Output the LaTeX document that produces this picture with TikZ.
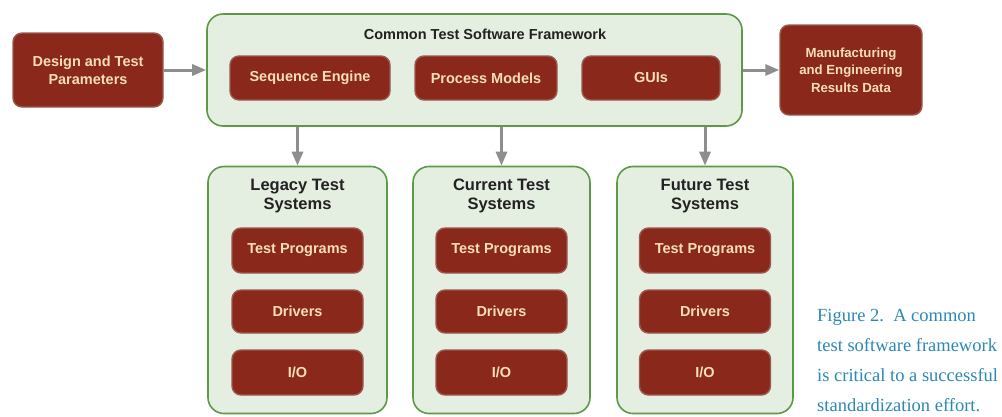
\documentclass[tikz,border=0pt]{standalone}
\usepackage{fontspec}
\setmainfont{Liberation Sans}
\newfontfamily\capfont{Liberation Serif}
\usetikzlibrary{arrows.meta}
\definecolor{boxred}{HTML}{8A281C}
\definecolor{boxedge}{HTML}{9A5A50}
\definecolor{boxtext}{HTML}{F6DEBB}
\definecolor{grnedge}{HTML}{5C9A48}
\definecolor{grnfill}{HTML}{E4EEE1}
\definecolor{arrgray}{HTML}{8E8E8E}
\definecolor{captblue}{HTML}{2B88B5}
\definecolor{ttltext}{HTML}{222222}
\tikzset{
  redbox/.style={draw=boxedge, line width=1.4pt, fill=boxred, rounded corners=9pt, text=boxtext,
    font=\bfseries\fontsize{14.5}{18}\selectfont, align=center, inner sep=0pt},
  container/.style={draw=grnedge, line width=1.6pt, fill=grnfill, rounded corners=16pt, inner sep=0pt},
  ttl/.style={font=\bfseries\fontsize{16.5}{19}\selectfont, text=ttltext, align=center, inner sep=0pt},
  arr/.style={draw=arrgray, line width=3pt, -{Triangle[length=14pt,width=11pt]}, arrgray},
}
\begin{document}
\begin{tikzpicture}[x=1pt,y=-1pt]
\useasboundingbox (0,0) rectangle (1002,416);
% left input
\node[redbox, minimum width=150pt, minimum height=74pt] (design) at (88,70) {Design and Test\\Parameters};
% framework
\node[container, minimum width=535pt, minimum height=112pt] (fw) at (474.5,70) {};
\node[ttl, font=\bfseries\fontsize{14.5}{18}\selectfont] (fwtitle) at (485,34) {Common Test Software Framework};
\node[redbox, minimum width=160pt, minimum height=44pt] (seq) at (310,78) {Sequence Engine};
\node[redbox, minimum width=142pt, minimum height=44pt] (proc) at (486,78) {Process Models};
\node[redbox, minimum width=138pt, minimum height=44pt] (gui) at (651,78) {GUIs};
% right output
\node[redbox, minimum width=142pt, minimum height=90pt, font=\bfseries\fontsize{13.2}{17.5}\selectfont] (mfg) at (851,70) {Manufacturing\\and Engineering\\Results Data};
% systems
\node[container, minimum width=179pt, minimum height=247pt] (leg) at (297.5,290) {};
\node[container, minimum width=177pt, minimum height=247pt] (cur) at (501.5,290) {};
\node[container, minimum width=176pt, minimum height=247pt] (fut) at (705,290) {};
\node[ttl] (legt) at (297.5,196) {Legacy Test\\Systems};
\node[ttl] (curt) at (501.5,196) {Current Test\\Systems};
\node[ttl] (futt) at (705,196) {Future Test\\Systems};
\foreach \n/\x in {leg/297.5,cur/501.5,fut/705}{
  \node[redbox, minimum width=131pt, minimum height=45pt] (\n tp) at (\x,250.5) {Test Programs};
  \node[redbox, minimum width=131pt, minimum height=43pt] (\n dr) at (\x,311.5) {Drivers};
  \node[redbox, minimum width=131pt, minimum height=45pt] (\n io) at (\x,372.5) {I/O};
}
% connectors
\draw[arr] (design.east) -- (fw.west);
\draw[arr] (fw.east) -- (mfg.west);
\draw[arr] (leg.north |- fw.south) -- (leg.north);
\draw[arr] (cur.north |- fw.south) -- (cur.north);
\draw[arr] (fut.north |- fw.south) -- (fut.north);
% caption
\node[anchor=base west, align=left, text=captblue, inner sep=0pt,
  font=\capfont\fontsize{18.5}{29.7}\selectfont] (cap) at (817,411)
  {Figure 2.\ \ A common\\test software framework\\is critical to a successful\\standardization effort.};
\end{tikzpicture}
\end{document}
